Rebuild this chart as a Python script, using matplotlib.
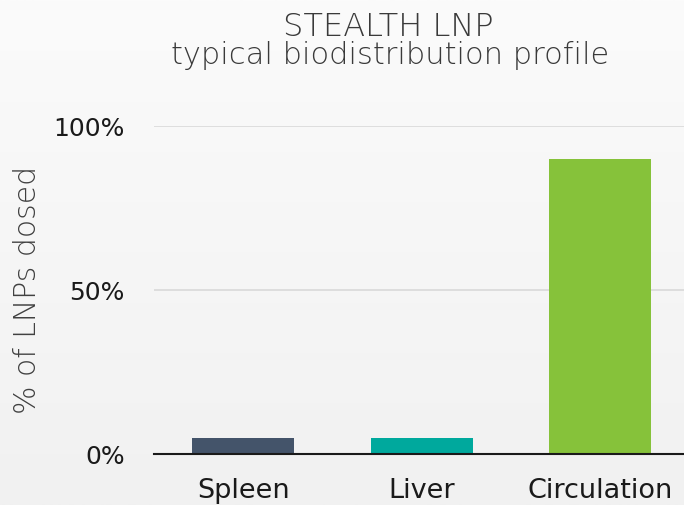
import matplotlib
matplotlib.use("Agg")
import matplotlib.pyplot as plt
import numpy as np

# data
organs = ["Spleen", "Liver", "Circulation"]
pct_dosed = [5, 5, 90]
bar_colors = ["#44546a", "#00a99d", "#86c23a"]
yticks = [0, 50, 100]
ytick_labels = ["0%", "50%", "100%"]

plt.rcParams['font.family'] = ['DejaVu Sans']

W, H = 684, 505
fig = plt.figure(figsize=(W / 100, H / 100), dpi=100)

# light grey gradient background
bg = fig.add_axes([0, 0, 1, 1], zorder=-10)
grad = np.linspace(0, 1, 256).reshape(-1, 1)
bg.imshow(grad, aspect="auto", cmap=matplotlib.colors.LinearSegmentedColormap.from_list(
    "bg", ["#fbfbfb", "#f1f1f1"]), extent=[0, 1, 0, 1], origin="upper")
bg.axis("off")

# plot area in pixels: left 154, right ~689 (cropped), 0% at y=454, 100% at y=126
ax = fig.add_axes([154 / W, (H - 454) / H, (689.5 - 154) / W, 328 / H])
ax.patch.set_alpha(0)

x = np.arange(len(organs))
ax.bar(x, pct_dosed, width=0.57, color=bar_colors, zorder=3)

ax.set_xlim(-0.5, 2.5)
ax.set_ylim(0, 100)
ax.set_yticks(yticks)
ax.set_yticklabels(ytick_labels)
ax.set_xticks(x)
ax.set_xticklabels(organs)
ax.grid(axis="y", color="#d9d9d9", linewidth=1.2, zorder=0)
ax.set_axisbelow(True)
for s in ["top", "right", "left"]:
    ax.spines[s].set_visible(False)
ax.spines["bottom"].set_color("#1a1a1a")
ax.spines["bottom"].set_linewidth(1.5)
ax.spines["bottom"].set_zorder(4)
ax.tick_params(axis="both", length=0, labelcolor="#1a1a1a", width=0)
ax.tick_params(axis="x", pad=17, labelsize=19.5)
ax.tick_params(axis="y", pad=21, labelsize=18)

fig.text(28 / W, 1 - 290 / H, "% of LNPs dosed", rotation=90, ha="center",
         va="center", fontsize=21.5, color="#404040", fontweight="light")

fig.text(388 / W, 1 - 36 / H, "STEALTH LNP", ha="center", va="baseline",
         fontsize=23, color="#3a3a3a", fontweight="light")
fig.text(390 / W, 1 - 64 / H, "typical biodistribution profile", ha="center",
         va="baseline", fontsize=22, color="#3a3a3a", fontweight="light")

fig.savefig("out.png", dpi=100, facecolor="#f6f6f6")
